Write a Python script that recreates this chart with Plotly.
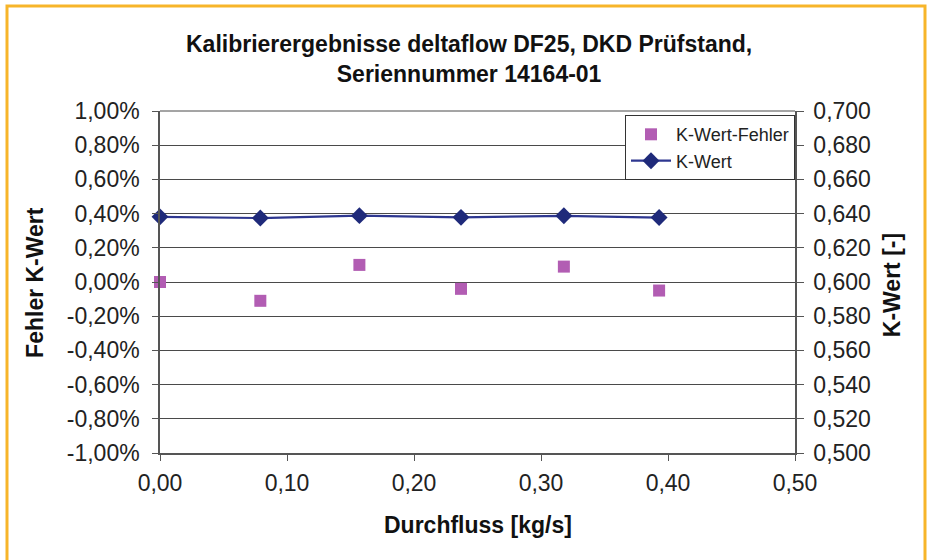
import plotly.graph_objects as go

# Data
durchfluss = [0.0, 0.079, 0.157, 0.237, 0.318, 0.393]          # kg/s
k_wert_fehler = [0.0000, -0.0011, 0.0010, -0.0004, 0.0009, -0.0005]  # fraction (shown as %)
k_wert = [0.6381, 0.6374, 0.6388, 0.6378, 0.6387, 0.6377]

left_ticks = [-0.01, -0.008, -0.006, -0.004, -0.002, 0.0, 0.002, 0.004, 0.006, 0.008, 0.01]
left_labels = ["-1,00%", "-0,80%", "-0,60%", "-0,40%", "-0,20%", "0,00%",
               "0,20%", "0,40%", "0,60%", "0,80%", "1,00%"]
right_ticks = [0.50, 0.52, 0.54, 0.56, 0.58, 0.60, 0.62, 0.64, 0.66, 0.68, 0.70]
right_labels = ["0,500", "0,520", "0,540", "0,560", "0,580", "0,600",
                "0,620", "0,640", "0,660", "0,680", "0,700"]
x_ticks = [0.0, 0.1, 0.2, 0.3, 0.4, 0.5]
x_labels = ["0,00", "0,10", "0,20", "0,30", "0,40", "0,50"]

FONT = "Liberation Sans, Arial, sans-serif"
GRID = "#4a4a4a"
AXIS = "#555555"
TITLE_SIZE = 23

fig = go.Figure()
fig.add_trace(go.Scatter(
    x=durchfluss, y=k_wert_fehler, mode="markers", name="K-Wert-Fehler",
    marker=dict(symbol="square", size=12, color="#B25DB3"),
    yaxis="y", cliponaxis=False,
))
fig.add_trace(go.Scatter(
    x=durchfluss, y=k_wert, mode="lines+markers", name="K-Wert",
    line=dict(color="#2E3790", width=2.2),
    marker=dict(symbol="diamond", size=13, color="#1F2A7A"),
    yaxis="y2", cliponaxis=False,
))

fig.update_layout(
    width=930, height=560,
    margin=dict(l=160, r=135, t=111, b=107),
    paper_bgcolor="white", plot_bgcolor="white",
    separators=",.",
    font=dict(family=FONT, size=23, color="#222222"),
    showlegend=True,
    legend=dict(
        x=1.0, y=0.988, xanchor="right", yanchor="top",
        bgcolor="white", bordercolor="#333333", borderwidth=1,
        font=dict(size=18, family=FONT, color="#222222"),
        tracegroupgap=4, itemwidth=40,
    ),
    xaxis=dict(
        range=[0, 0.5], tickvals=x_ticks, ticktext=x_labels,
        showgrid=False, zeroline=False,
        showline=True, linecolor=AXIS, linewidth=1.5,
        ticks="outside", ticklen=6, tickcolor=AXIS, ticklabelstandoff=3,
    ),
    yaxis=dict(
        range=[-0.01, 0.01], tickvals=left_ticks, ticktext=left_labels,
        showgrid=True, gridcolor=GRID, gridwidth=1, zeroline=False,
        showline=True, linecolor=AXIS, linewidth=1.5,
        ticks="outside", ticklen=6, tickcolor=AXIS, ticklabelstandoff=8,
    ),
    yaxis2=dict(
        range=[0.5, 0.7], tickvals=right_ticks, ticktext=right_labels,
        overlaying="y", side="right",
        showgrid=False, zeroline=False,
        showline=True, linecolor=AXIS, linewidth=1.5,
        ticks="outside", ticklen=7, tickcolor=AXIS, ticklabelstandoff=5,
    ),
    annotations=[
        dict(text="<b>Kalibrierergebnisse deltaflow DF25, DKD Prüfstand,<br>Seriennummer 14164-01</b>",
             xref="paper", yref="paper", x=0.486, y=1.151, xanchor="center", yanchor="middle",
             showarrow=False, font=dict(size=TITLE_SIZE, family=FONT, color="#111111")),
        dict(text="<b>Fehler K-Wert</b>", textangle=-90,
             xref="paper", yref="paper", x=-0.197, y=0.5, xanchor="center", yanchor="middle",
             showarrow=False, font=dict(size=TITLE_SIZE, family=FONT, color="#111111")),
        dict(text="<b>K-Wert [-]</b>", textangle=-90,
             xref="paper", yref="paper", x=1.154, y=0.49, xanchor="center", yanchor="middle",
             showarrow=False, font=dict(size=TITLE_SIZE, family=FONT, color="#111111")),
        dict(text="<b>Durchfluss [kg/s]</b>",
             xref="paper", yref="paper", x=0.5, y=-0.21, xanchor="center", yanchor="middle",
             showarrow=False, font=dict(size=TITLE_SIZE, family=FONT, color="#111111")),
    ],
    shapes=[
        dict(type="line", xref="paper", yref="paper", x0=0, x1=1, y0=1, y1=1,
             line=dict(color=GRID, width=1)),
        dict(type="rect", xref="paper", yref="paper",
             x0=(7 - 160) / 635, x1=(925 - 160) / 635,
             y0=-0.4, y1=(453 - 6) / 342,
             line=dict(color="#F7B52A", width=3), layer="above"),
    ],
)

fig.write_html(
    "out.html",
    config={"displayModeBar": False},
    post_script="document.body.style.margin='0';document.documentElement.style.overflow='hidden';",
)
